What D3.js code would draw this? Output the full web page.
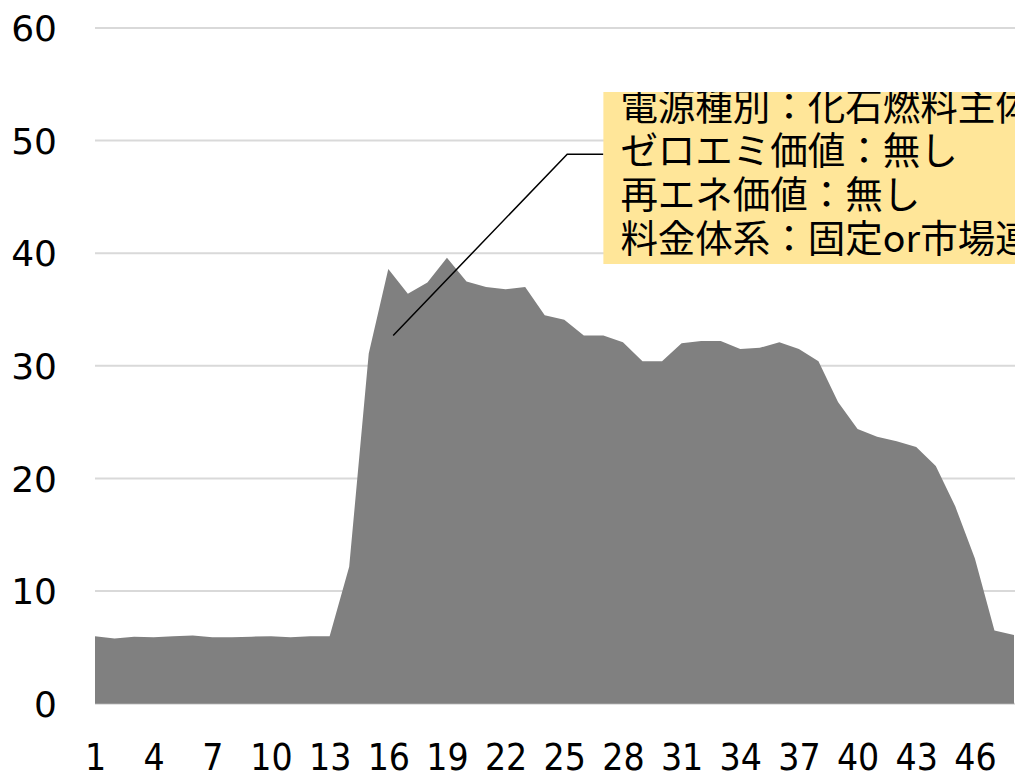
<!DOCTYPE html>
<html>
<head>
<meta charset="utf-8">
<script src="https://cdn.jsdelivr.net/npm/d3@7/dist/d3.min.js"></script>
<style>
  html, body { margin: 0; padding: 0; background: #ffffff; }
  svg { display: block; }
</style>
</head>
<body>
<script>
// Half-hourly slots 1..48
const slots = d3.range(1, 49);

// Value for each slot
const values = [
  6.0, 5.8, 5.95, 5.9, 6.0, 6.05, 5.9, 5.9, 5.95, 6.0, 5.9, 6.0,
  6.0, 12.15, 31.1, 38.6, 36.4, 37.4, 39.6, 37.5, 37.0, 36.8, 37.0, 34.5,
  34.1, 32.7, 32.7, 32.1, 30.4, 30.4, 32.0, 32.2, 32.2, 31.5, 31.6, 32.1,
  31.5, 30.4, 26.8, 24.4, 23.7, 23.3, 22.8, 21.1, 17.5, 12.9, 6.5, 6.1
];

// Axis ticks
const xTickLabels = [1, 4, 7, 10, 13, 16, 19, 22, 25, 28, 31, 34, 37, 40, 43, 46];
const yTickLabels = [0, 10, 20, 30, 40, 50, 60];

// Callout text
const calloutLines = [
  "電源種別：化石燃料主体",
  "ゼロエミ価値：無し",
  "再エネ価値：無し",
  "料金体系：固定or市場連動"
];
// Callout leader: anchor point on the series, elbow, in data units
const leaderAnchor = [16.25, 32.7];
const leaderElbow = [25.15, 48.8];
const boxLeftSlot = 27.0;

const W = 1015, H = 774;
const svg = d3.select("body").append("svg")
  .attr("width", W).attr("height", H);

const x = d3.scaleLinear().domain([1, 48]).range([95, 1014]);
const y = d3.scaleLinear().domain([0, 60]).range([703.7, 28]);

// Gridlines
svg.append("g")
  .selectAll("line")
  .data(yTickLabels)
  .join("line")
  .attr("x1", 95).attr("x2", W)
  .attr("y1", d => y(d)).attr("y2", d => y(d))
  .attr("stroke", "#d9d9d9")
  .attr("stroke-width", 2);

// Area
const area = d3.area()
  .x((d, i) => x(slots[i]))
  .y0(y(0))
  .y1(d => y(d));

svg.append("path")
  .datum(values)
  .attr("d", area)
  .attr("fill", "#808080");

// Y axis labels
const yAxis = d3.axisLeft(y).tickValues(yTickLabels).tickSize(0).tickPadding(0);
const yg = svg.append("g").attr("transform", "translate(57,0)").call(yAxis);
yg.select(".domain").remove();
yg.selectAll("text")
  .attr("font-family", "'DejaVu Sans', sans-serif")
  .attr("font-size", 36)
  .attr("fill", "#000")
  .attr("dy", "0.35em");

// X axis labels
const xAxis = d3.axisBottom(x).tickValues(xTickLabels).tickSize(0).tickPadding(0);
const xg = svg.append("g").attr("transform", "translate(0,744)").call(xAxis);
xg.select(".domain").remove();
xg.selectAll("text")
  .attr("font-family", "'DejaVu Sans Condensed', 'DejaVu Sans', sans-serif")
  .attr("font-size", 37)
  .attr("fill", "#000")
  .attr("dy", "0.71em");

// Callout leader line
const ey = y(leaderElbow[1]);
const boxX = x(boxLeftSlot);
svg.append("path")
  .attr("d", d3.line()([
    [x(leaderAnchor[0]), y(leaderAnchor[1])],
    [x(leaderElbow[0]), ey],
    [boxX, ey]
  ]))
  .attr("fill", "none")
  .attr("stroke", "#000")
  .attr("stroke-width", 1.5);

// Callout box
const boxTop = 92, boxH = 172;
svg.append("clipPath").attr("id", "callout-clip")
  .append("rect")
  .attr("x", boxX).attr("y", boxTop)
  .attr("width", W - boxX + 50).attr("height", boxH);

svg.append("rect")
  .attr("x", boxX).attr("y", boxTop)
  .attr("width", W - boxX + 50).attr("height", boxH)
  .attr("fill", "#ffe699");

svg.append("g")
  .attr("clip-path", "url(#callout-clip)")
  .selectAll("text")
  .data(calloutLines)
  .join("text")
  .attr("x", boxX + 17)
  .attr("y", (d, i) => 119.5 + i * 44.3)
  .attr("font-family", "'Noto Sans CJK JP', sans-serif")
  .attr("font-size", 37.5)
  .attr("fill", "#000")
  .text(d => d);
</script>
</body>
</html>
